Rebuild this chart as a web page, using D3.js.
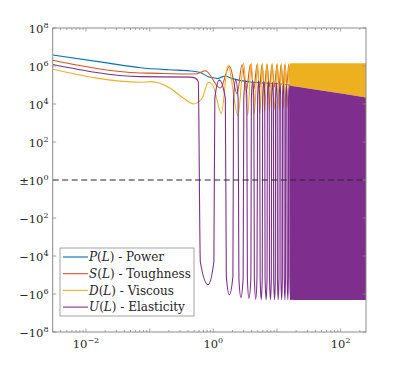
<!DOCTYPE html>
<html>
<head>
<meta charset="utf-8">
<script src="https://cdn.jsdelivr.net/npm/d3@7/dist/d3.min.js"></script>
<style>
  body { margin: 0; background: #fff; }
  svg text { font-family: "DejaVu Serif", "Liberation Serif", serif; fill: #262626; }
</style>
</head>
<body>
<svg id="chart" width="405" height="373"></svg>
<script>
// ---- data ----
const xDomain = [0.003, 250];
const xTickExponents = [-2, 0, 2];
const yTickExponents = [8, 6, 4, 2, 0, -2, -4, -6, -8];

const legendSymbols = ["P", "S", "D", "U"];
const legendNames = ["Power", "Toughness", "Viscous", "Elasticity"];
const seriesColors = ["#0072BD", "#D95319", "#EDB120", "#7E2F8E"];

// P(L) - Power
const powerL = [0.003, 0.02, 0.072, 0.2, 0.435, 0.625, 0.834, 1.0, 1.15, 1.35, 1.54, 1.9, 2.5, 3.8, 7, 12.6, 30, 80, 250];
const powerV = [3.8e6, 1.5e6, 8.1e5, 6.3e5, 5.5e5, 4.5e5, 2.75e5, 2.4e5, 2.2e5, 2.6e5, 3.0e5, 2.3e5, 1.8e5, 1.45e5, 1.25e5, 1.1e5, 8e4, 5e4, 2.5e4];

// S(L) - Toughness
const toughL = [0.003, 0.072, 0.1, 0.52, 0.748, 1.288, 1.8, 2.36, 2.83, 3.3, 3.82, 4.33, 4.86, 5.33, 5.82, 6.33, 6.96, 7.6, 8.36, 9.1, 10.0, 10.8, 11.6, 12.5, 13.3, 14.3, 15.3, 16.3];
const toughV = [2e6, 4.3e5, 4.2e5, 3.8e5, 5.6e5, 6.9e4, 1e6, 3.4e4, 1.2e6, 5e4, 1.2e6, 6e4, 1.2e6, 7e4, 1.2e6, 7e4, 1.2e6, 8e4, 1.2e6, 8e4, 1.2e6, 9e4, 1.2e6, 9e4, 1.2e6, 1e5, 1.2e6, 1e5];

// D(L) - Viscous
const viscL = [0.003, 0.072, 0.103, 0.21, 0.34, 0.49, 0.665, 0.84, 1.01, 1.14, 1.336, 1.7, 2.44, 3.0, 3.46, 3.95, 4.4, 4.95, 5.4, 5.9, 6.4, 7.0, 7.6, 8.4, 9.2, 10.1, 10.9, 11.7, 12.6, 13.4, 14.4, 15.4, 16.3];
const viscV = [6.8e5, 1.4e5, 1.5e5, 6.8e4, 2e4, 1e4, 2e4, 1.4e5, 8e4, 1.6e4, 3.2e3, 1.1e6, 2.5e3, 1.4e6, 2.5e3, 1.4e6, 3e3, 1.4e6, 3e3, 1.4e6, 4e3, 1.4e6, 4e3, 1.4e6, 5e3, 1.4e6, 5e3, 1.4e6, 6e3, 1.4e6, 6e3, 1.4e6, 6e3];

// U(L) - Elasticity (each lobe: shoulder, extreme, shoulder)
const elastL = [0.003, 0.072, 0.435, 0.521, 0.58,
  0.625, 0.825, 1.02,
  1.056, 1.24, 1.544,
  1.60, 1.785, 2.03,
  2.08, 2.25, 2.45,
  2.52, 2.71, 2.94,
  3.01, 3.185, 3.36,
  3.425, 3.62, 3.89,
  3.96, 4.14, 4.33,
  4.41, 4.63, 4.85,
  4.96, 5.15, 5.35,
  5.44, 5.65, 5.87,
  5.95, 6.2, 6.42,
  6.5, 6.75, 6.98,
  7.06, 7.3, 7.55,
  7.63, 7.9, 8.15,
  8.24, 8.5, 8.78,
  8.86, 9.15, 9.42,
  9.5, 9.8, 10.08,
  10.16, 10.45, 10.75,
  10.83, 11.15, 11.45,
  11.53, 11.85, 12.15,
  12.24, 12.6, 12.9,
  12.98, 13.3, 13.6,
  13.7, 14.05, 14.35,
  14.45, 14.8, 15.1,
  15.2, 15.55, 15.85,
  15.95, 16.3, 16.6];
const elastV = [1.2e6, 2.75e5, 2.6e5, 2.3e5, 1.5e5,
  -2e4, -3.2e5, -2e4,
  2e4, 1.8e5, 2e4,
  -1.2e5, -1.1e6, -1.2e5,
  2e4, 1.8e5, 2e4,
  -1.5e5, -1.5e6, -1.5e5,
  2e4, 1.7e5, 2e4,
  -1.5e5, -1.7e6, -1.5e5,
  2e4, 1.7e5, 2e4,
  -1.5e5, -1.9e6, -1.5e5,
  2e4, 1.6e5, 2e4,
  -1.5e5, -2e6, -1.5e5,
  2e4, 1.5e5, 2e4,
  -1.5e5, -2e6, -1.5e5,
  2e4, 1.5e5, 2e4,
  -1.5e5, -2e6, -1.5e5,
  2e4, 1.4e5, 2e4,
  -1.5e5, -2e6, -1.5e5,
  2e4, 1.3e5, 2e4,
  -1.5e5, -2e6, -1.5e5,
  2e4, 1.2e5, 2e4,
  -1.5e5, -2e6, -1.5e5,
  2e4, 1.1e5, 2e4,
  -1.5e5, -2e6, -1.5e5,
  2e4, 1e5, 2e4,
  -1.5e5, -2e6, -1.5e5,
  2e4, 1e5, 2e4,
  -1.5e5, -2e6, -1.5e5];

// dense oscillation region, drawn as filled bands
const bandL = [16, 23.3, 60, 250];
const viscBandTop = [1.4e6, 1.4e6, 1.4e6, 1.4e6];
const elastBandTop = [9e4, 7.6e4, 4.7e4, 2.2e4];
const elastBandBottom = [-2e6, -2.1e6, -2.1e6, -2.1e6];

// ---- drawing ----
const svg = d3.select("#chart");
const plotLeft = 52.7, plotRight = 366, plotTop = 28, plotBottom = 332;
const frameColor = "#8c8c8c";

const x = d3.scaleLog().domain(xDomain).range([plotLeft, plotRight]);
const y = d3.scaleLinear().domain([-8, 8]).range([plotBottom, plotTop]);

function signedLog(v) {
  const a = Math.abs(v);
  return a <= 1 ? 0 : Math.sign(v) * Math.log10(a);
}

svg.append("defs").append("clipPath").attr("id", "plot-clip")
  .append("rect").attr("x", plotLeft).attr("y", plotTop)
  .attr("width", plotRight - plotLeft).attr("height", plotBottom - plotTop);

const plot = svg.append("g").attr("clip-path", "url(#plot-clip)");

const line = d3.line()
  .x((d) => x(d[0]))
  .y((d) => y(signedLog(d[1])))
  .curve(d3.curveMonotoneX);

const band = d3.area()
  .x((d) => x(d[0]))
  .y0((d) => y(signedLog(d[1])))
  .y1((d) => y(signedLog(d[2])))
  .curve(d3.curveMonotoneX);

const seriesData = [
  d3.zip(powerL, powerV),
  d3.zip(toughL, toughV),
  d3.zip(viscL, viscV),
  d3.zip(elastL, elastV),
];

seriesData.forEach((data, i) => {
  if (i === 2) {
    plot.append("path")
      .attr("d", band(d3.zip(bandL, elastBandTop, viscBandTop)))
      .attr("fill", seriesColors[2]);
  }
  if (i === 3) {
    plot.append("path")
      .attr("d", band(d3.zip(bandL, elastBandBottom, elastBandTop)))
      .attr("fill", seriesColors[3]);
  }
  plot.append("path")
    .attr("d", line(data))
    .attr("fill", "none")
    .attr("stroke", seriesColors[i])
    .attr("stroke-width", 1.1)
    .attr("stroke-linejoin", "round");
});

// dashed zero line
svg.append("line")
  .attr("x1", plotLeft).attr("x2", plotRight)
  .attr("y1", y(0)).attr("y2", y(0))
  .attr("stroke", "#262626")
  .attr("stroke-width", 1.2)
  .attr("stroke-dasharray", "6,3.5");

// frame
svg.append("rect")
  .attr("x", plotLeft).attr("y", plotTop)
  .attr("width", plotRight - plotLeft).attr("height", plotBottom - plotTop)
  .attr("fill", "none").attr("stroke", frameColor).attr("stroke-width", 1);

// x ticks: majors every decade, minors 2..9
const ticks = svg.append("g").attr("stroke", frameColor).attr("stroke-width", 0.8);
for (let e = -3; e <= 2; e++) {
  for (let m = 1; m <= 9; m++) {
    const v = m * Math.pow(10, e);
    if (v < xDomain[0] || v > xDomain[1]) continue;
    const px = x(v);
    const len = m === 1 ? 3.5 : 2;
    ticks.append("line").attr("x1", px).attr("x2", px).attr("y1", plotBottom).attr("y2", plotBottom - len);
    ticks.append("line").attr("x1", px).attr("x2", px).attr("y1", plotTop).attr("y2", plotTop + len);
  }
}
yTickExponents.forEach((e) => {
  const py = y(e);
  ticks.append("line").attr("x1", plotLeft).attr("x2", plotLeft + 3.5).attr("y1", py).attr("y2", py);
  ticks.append("line").attr("x1", plotRight).attr("x2", plotRight - 3.5).attr("y1", py).attr("y2", py);
});

// tick labels
xTickExponents.forEach((e) => {
  const t = svg.append("text")
    .attr("x", x(Math.pow(10, e)))
    .attr("y", 348)
    .attr("text-anchor", "middle")
    .attr("font-size", 11.5);
  t.append("tspan").text("10");
  t.append("tspan").attr("dy", -5).attr("font-size", 8).text(e < 0 ? "\u2212" + Math.abs(e) : e);
});

yTickExponents.forEach((e) => {
  const t = svg.append("text")
    .attr("x", 48.5)
    .attr("y", y(e) + 4.5)
    .attr("text-anchor", "end")
    .attr("font-size", 11.5);
  const prefix = e === 0 ? "\u00B1" : e < 0 ? "\u2212" : "";
  t.append("tspan").text(prefix + "10");
  t.append("tspan").attr("dy", -5).attr("font-size", 8).text(Math.abs(e));
});

// legend
const legend = svg.append("g");
legend.append("rect")
  .attr("x", 60).attr("y", 248).attr("width", 134).attr("height", 68)
  .attr("fill", "#fff").attr("stroke", frameColor).attr("stroke-width", 0.8);

legendSymbols.forEach((sym, i) => {
  const ly = 257 + i * 16.7;
  legend.append("line")
    .attr("x1", 63).attr("x2", 88).attr("y1", ly).attr("y2", ly)
    .attr("stroke", seriesColors[i]).attr("stroke-width", 1.1);
  const t = legend.append("text").attr("x", 89).attr("y", ly + 4.2).attr("font-size", 12);
  t.append("tspan").attr("font-style", "italic").text(sym);
  t.append("tspan").text("(");
  t.append("tspan").attr("font-style", "italic").text("L");
  t.append("tspan").text(") - " + legendNames[i]);
});
</script>
</body>
</html>
